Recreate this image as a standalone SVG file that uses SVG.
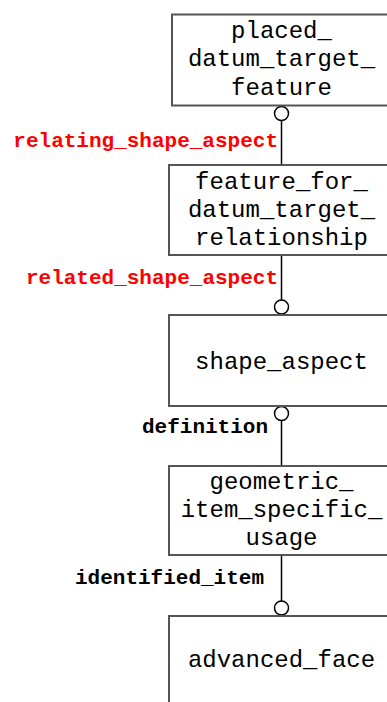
<svg xmlns="http://www.w3.org/2000/svg" width="387" height="702" viewBox="0 0 387 702">
<style>
.box{fill:#fff;stroke:#555;stroke-width:2}
.t{font-family:"Liberation Mono","Courier New",monospace;font-size:24px;fill:#000;text-anchor:middle}
.lbl{font-family:"Liberation Mono","Courier New",monospace;font-size:21px;font-weight:bold;text-anchor:end}
.red{fill:#ff0000}
.blk{fill:#000}
.ln{stroke:#000;stroke-width:1.5;fill:none}
.c{fill:#fff;stroke:#000;stroke-width:1.5}
</style>
<rect width="387" height="702" fill="#fff"/>
<g id="connectors">
<line class="ln" x1="281.5" y1="121" x2="281.5" y2="165"/>
<circle class="c" cx="281.5" cy="113.5" r="7"/>
<text class="lbl red" x="278" y="147">relating_shape_aspect</text>
<line class="ln" x1="281.5" y1="255" x2="281.5" y2="300"/>
<circle class="c" cx="281.5" cy="307" r="7"/>
<text class="lbl red" x="278" y="284">related_shape_aspect</text>
<line class="ln" x1="281.5" y1="421" x2="281.5" y2="466"/>
<circle class="c" cx="281.5" cy="413.5" r="7"/>
<text class="lbl blk" x="268" y="433">definition</text>
<line class="ln" x1="281.5" y1="555" x2="281.5" y2="601"/>
<circle class="c" cx="281.5" cy="608" r="7"/>
<text class="lbl blk" x="264" y="584">identified_item</text>
</g>
<g id="placed_datum_target_feature">
<rect class="box" x="172" y="14.5" width="219" height="91"/>
<text class="t" x="281.5" y="37.5">placed_</text>
<text class="t" x="281.5" y="65.5">datum_target_</text>
<text class="t" x="281.5" y="95">feature</text>
</g>
<g id="feature_for_datum_target_relationship">
<rect class="box" x="169" y="165" width="225" height="90"/>
<text class="t" x="281.5" y="188.5">feature_for_</text>
<text class="t" x="281.5" y="217">datum_target_</text>
<text class="t" x="281.5" y="245">relationship</text>
</g>
<g id="shape_aspect">
<rect class="box" x="169" y="315" width="225" height="91"/>
<text class="t" x="281.5" y="368.5">shape_aspect</text>
</g>
<g id="geometric_item_specific_usage">
<rect class="box" x="169" y="466" width="225" height="89"/>
<text class="t" x="281.5" y="488.5">geometric_</text>
<text class="t" x="281.5" y="517">item_specific_</text>
<text class="t" x="281.5" y="545">usage</text>
</g>
<g id="advanced_face">
<rect class="box" x="169" y="616" width="225" height="100"/>
<text class="t" x="281.5" y="667">advanced_face</text>
</g>
</svg>
